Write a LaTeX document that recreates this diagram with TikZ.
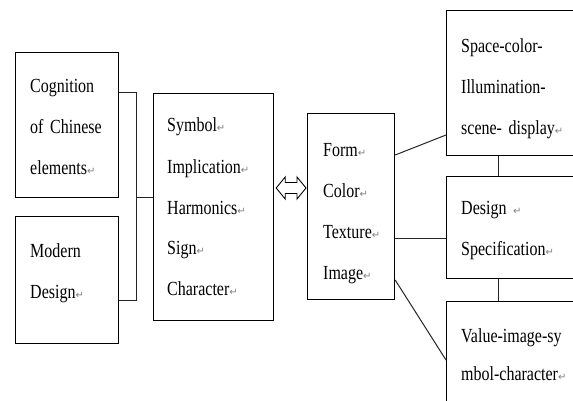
\documentclass[tikz,border=0pt]{standalone}
\usepackage{fontspec}
\setmainfont{Liberation Serif}[FakeStretch=0.8, WordSpace=0.7]
\newfontfamily\retfont{DejaVu Sans}
\newcommand{\ret}{{\retfont\fontsize{10}{10}\selectfont\textcolor{gray}{↵}}}
\usetikzlibrary{calc}

\begin{document}
\begin{tikzpicture}[x=1pt, y=-1pt,
    box/.style={draw, line width=1.2pt, anchor=north west, inner sep=0pt},
    txt/.style={anchor=base west, inner sep=0pt, align=left, text width=140pt,
        font=\fontsize{20}{41}\selectfont},
    link/.style={line width=1pt, black!85}]
    \clip (0,0) rectangle (573,401);
    \fill[white] (0,0) rectangle (573,401);

    % Left boxes
    \node[box, minimum width=103pt, minimum height=145pt] (cog) at (15,52) {};
    \node[txt] (cogt) at ([shift={(15,41)}]cog.north west) {Cognition\\of Chinese\\elements\ret};
    \node[box, minimum width=103pt, minimum height=127pt] (mod) at (15,216) {};
    \node[txt] (modt) at ([shift={(15,41)}]mod.north west) {Modern\\Design\ret};

    % Symbol box
    \node[box, minimum width=120pt, minimum height=227pt] (sym) at (153,93) {};
    \node[txt] (symt) at ([shift={(14,39)}]sym.north west)
        {Symbol\ret\\Implication\ret\\Harmonics\ret\\Sign\ret\\Character\ret};

    % Form box
    \node[box, minimum width=87pt, minimum height=186pt] (frm) at (307,113) {};
    \node[txt] (frmt) at ([shift={(16,44)}]frm.north west)
        {Form\ret\\Color\ret\\Texture\ret\\Image\ret};

    % Right boxes (cut by the page edge)
    \node[box, minimum width=144pt, minimum height=145pt] (spc) at (446,10) {};
    \node[txt] (spct) at ([shift={(15,43)}]spc.north west)
        {Space-color-\\Illumination-\\scene- display\ret};
    \node[box, minimum width=144pt, minimum height=102pt] (des) at (446,176) {};
    \node[txt] (dest) at ([shift={(15,38)}]des.north west) {Design \ret\\Specification\ret};
    \node[box, minimum width=144pt, minimum height=119pt] (val) at (446,301) {};
    \node[txt] (valt) at ([shift={(15,41)}]val.north west) {Value-image-sy\\[-3pt]mbol-character\ret};

    % Bracket joining the left boxes
    \coordinate (jt) at (136,93);
    \coordinate (jm) at (136,197);
    \coordinate (jb) at (136,300);
    \draw[link] (cog.east |- jt) -- (jt) -- (jb) -- (mod.east |- jb);
    \draw[link] (jm) -- (sym.west |- jm);

    % Hollow double arrow between the symbol and form boxes
    \coordinate (al) at ($(sym.east |- 0,188)+(2,0)$);
    \coordinate (ar) at ($(frm.west |- 0,188)-(1,0)$);
    \draw[line width=0.9pt, line join=miter] (al) -- ++(9,-11) -- ++(0,5.5) -- ($(ar)+(-9,-5.5)$)
        -- ++(0,-5.5) -- (ar) -- ++(-9,11) -- ++(0,-5.5) -- ($(al)+(9,5.5)$) -- ++(0,5.5) -- cycle;

    % Fan out to the right
    \draw[link] (frm.east |- 0,155) -- (spc.west |- 0,135);
    \draw[link] (frm.east |- 0,238) -- (des.west |- 0,238);
    \draw[link] (frm.east |- 0,280) -- (val.west |- 0,360);
    \draw[link] (spc.south -| 498,0) -- (des.north -| 498,0);
    \draw[link] (des.south -| 498,0) -- (val.north -| 498,0);
\end{tikzpicture}
\end{document}
